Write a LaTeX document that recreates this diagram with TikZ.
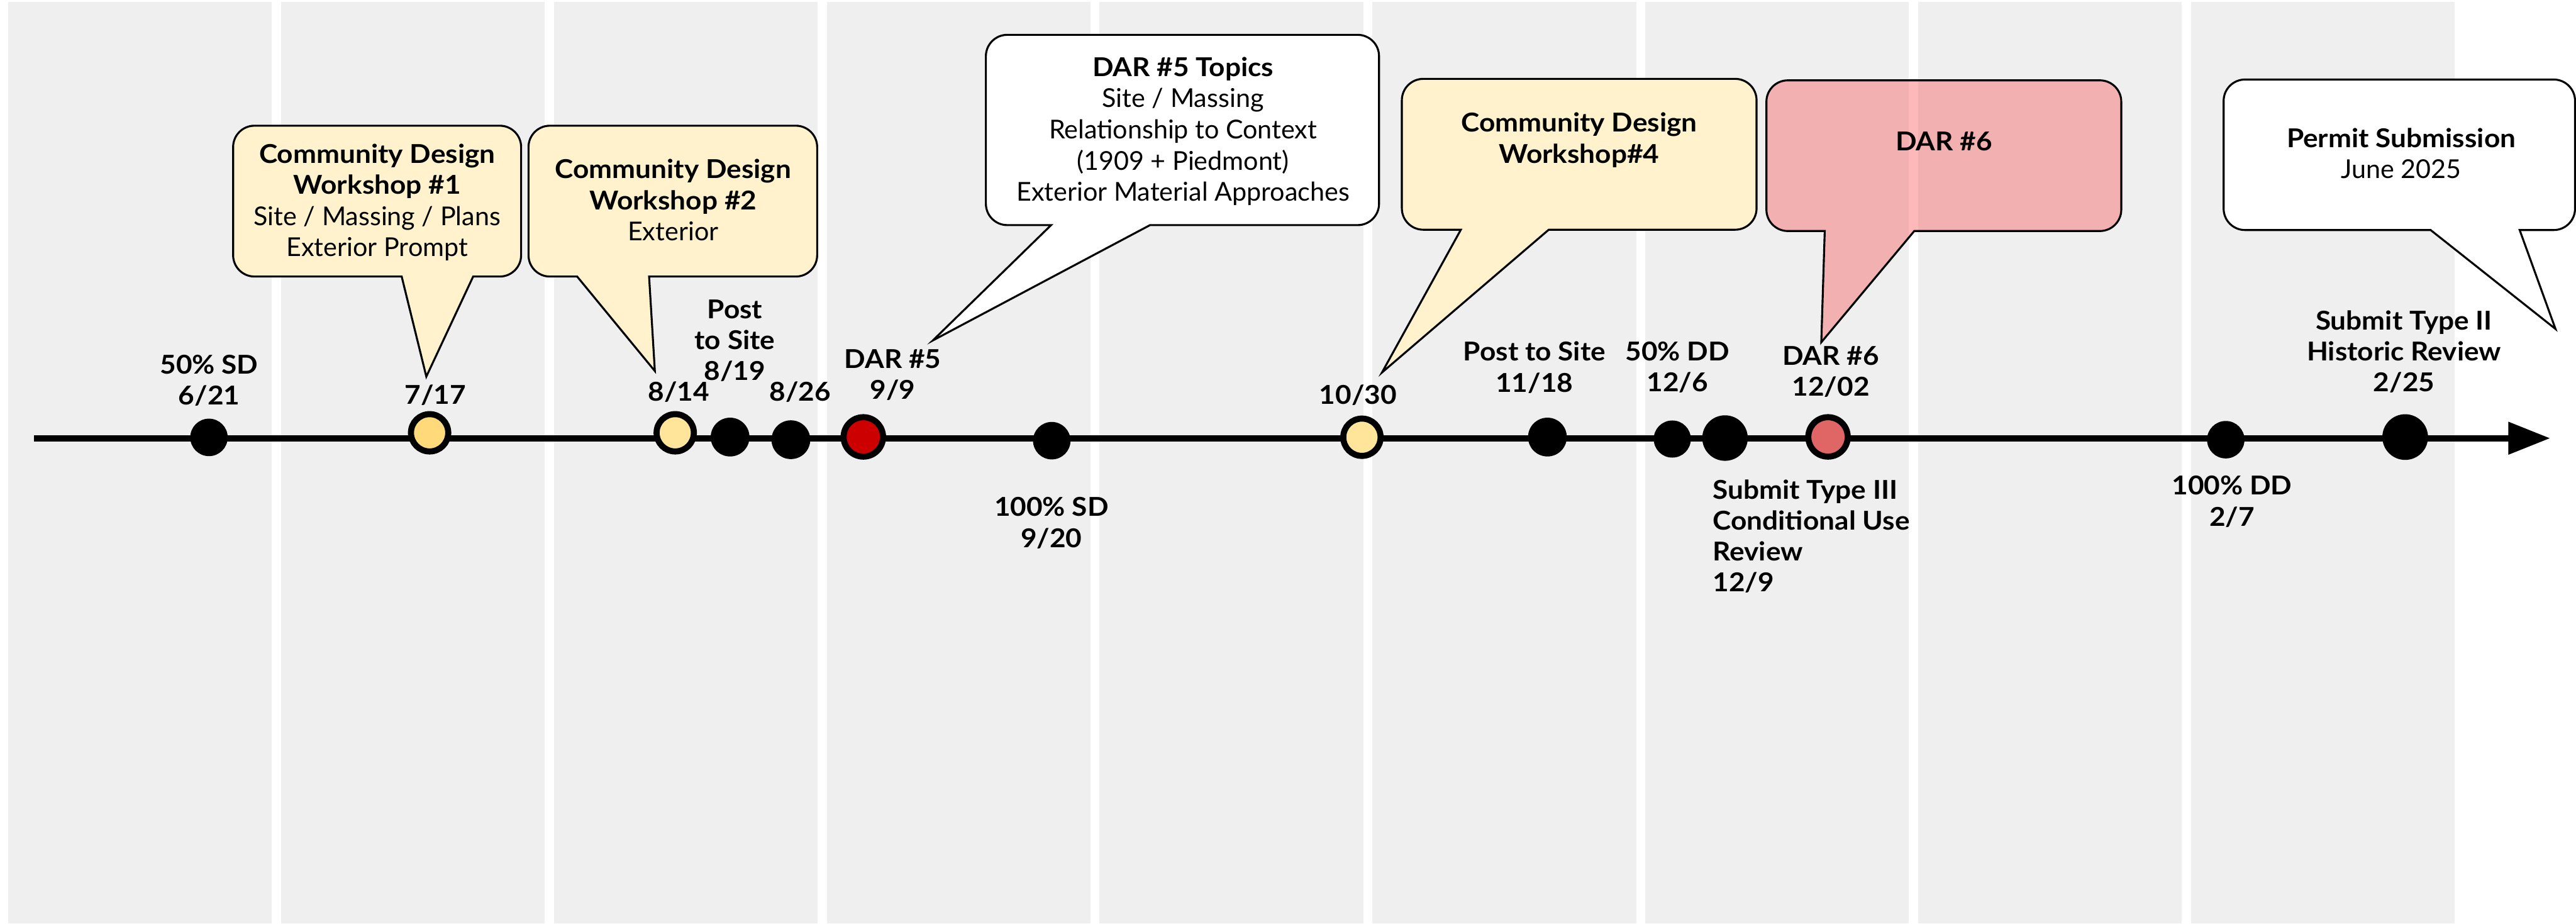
\documentclass[tikz,border=0pt]{standalone}
\usepackage{fontspec}
\setmainfont{Lato}[BoldFeatures={FakeStretch=1.07}]
\usetikzlibrary{arrows.meta}

\definecolor{colbg}{HTML}{EFEFEF}
\definecolor{wsyellow}{HTML}{FFF2CC}
\definecolor{dotgold}{HTML}{FFD97A}
\definecolor{dotlight}{HTML}{FFE599}
\definecolor{darred}{HTML}{CC0000}
\definecolor{darpink}{HTML}{E06666}
\definecolor{bubblepink}{RGB}{250,100,100}

\newcommand\lblfont{\fontsize{15.8}{18.8}\selectfont\bfseries}
\newcommand\txtfont{\fontsize{15.8}{19}\selectfont}

% corner radius of the speech bubbles and its Bezier control offset
\newcommand\rr{13}
\newcommand\rk{5.82}

% speech bubble: #1 style, #2 left, #3 top, #4 right, #5 bottom,
% #6/#7 left/right end of the pointer base, #8 pointer tip coordinate
\newcommand\bubble[8]{%
  \draw[bubbleline,#1] (#7,#5) -- ({#4-\rr},#5)
    .. controls ({#4-\rk},#5) and (#4,{#5-\rk}) .. (#4,{#5-\rr})
    -- (#4,{#3+\rr}) .. controls (#4,{#3+\rk}) and ({#4-\rk},#3) .. ({#4-\rr},#3)
    -- ({#2+\rr},#3) .. controls ({#2+\rk},#3) and (#2,{#3+\rk}) .. (#2,{#3+\rr})
    -- (#2,{#5-\rr}) .. controls (#2,{#5-\rk}) and ({#2+\rk},#5) .. ({#2+\rr},#5)
    -- (#6,#5) -- (#8) -- cycle;}

\begin{document}
\begin{tikzpicture}[x=1pt,y=-1pt,
  bubbleline/.style={draw=black,line width=1.2pt,line join=miter},
  msdot/.style={circle,fill=black,inner sep=0pt,outer sep=0pt,minimum size=#1},
  ringdot/.style={circle,draw=black,line width=3.7pt,fill=#1,inner sep=0pt,outer sep=0pt,minimum size=22.7pt},
  lbl/.style={font=\lblfont,align=center,inner sep=0pt,anchor=north,yshift=7.5pt,
    execute at begin node=\strut},
  btxt/.style={font=\txtfont,align=center,inner sep=0pt,anchor=north,yshift=7.65pt,
    execute at begin node=\strut},
]
\useasboundingbox (0,0) rectangle (1568,562);

% grey column bands
\foreach \k in {0,...,8}
  \fill[colbg] ({4.9+\k*166.1},1.3) rectangle +(160.5,560.7);

% timeline axis
\coordinate (tlstart) at (20.7,266.7);
\coordinate (tlend) at (1552.3,266.7);
\draw[line width=3.9pt,-{Triangle[length=25.5pt,width=19pt]}] (tlstart) -- (tlend);

% milestones
\node[msdot=22.8pt] (d621) at (127.2,266.2) {};
\node[ringdot=dotgold] (d717) at (261.5,263.4) {};
\node[ringdot=dotlight] (d814) at (411.0,263.4) {};
\node[msdot=23.6pt] (d819) at (444.4,266.0) {};
\node[msdot=23.6pt] (d826) at (481.4,267.6) {};
\node[ringdot=darred,minimum size=24pt] (d909) at (525.5,265.9) {};
\node[msdot=22.8pt] (d920) at (640.2,268.2) {};
\node[ringdot=dotlight] (d1030) at (829.0,266.1) {};
\node[msdot=23.6pt] (d1118) at (941.9,266.0) {};
\node[msdot=22.6pt] (d1206) at (1017.9,267.2) {};
\node[msdot=27.7pt] (d1209) at (1050.0,266.6) {};
\node[ringdot=darpink,minimum size=24pt] (d1202) at (1112.7,265.9) {};
\node[msdot=22.8pt] (d0207) at (1354.8,267.6) {};
\node[msdot=27.8pt] (d0225) at (1464.0,266.0) {};

% milestone labels
\node[lbl] (l621) at (127.3,223.3) {50\% SD\\6/21};
\node[lbl] (l717) at (265.0,240.0) {7/17};
\node[lbl] (l814) at (413.2,238.1) {8/14};
\node[lbl] (l819) at (447.3,189.7) {Post\\to Site\\8/19};
\node[lbl] (l826) at (487.0,238.1) {8/26};
\node[lbl] (l909) at (543.4,220.0) {DAR \#5\\9/9};
\node[lbl] (l920) at (640.0,310.0) {100\% SD\\9/20};
\node[lbl] (l1030) at (826.6,240.0) {10/30};
\node[lbl] (l1118) at (934.0,215.3) {Post to Site\\11/18};
\node[lbl] (l1206) at (1021.0,215.3) {50\% DD\\12/6};
\node[lbl] (l1202) at (1114.4,218.2) {DAR \#6\\12/02};
\node[lbl,align=left,anchor=north west] (l1209) at (1042.4,299.3)
  {Submit Type III\\Conditional Use\\Review\\12/9};
\node[lbl] (l0207) at (1358.6,297.0) {100\% DD\\2/7};
\node[lbl] (l0225) at (1463.3,196.4) {Submit Type II\\Historic Review\\2/25};

% pointer tips of the speech bubbles
\coordinate (t1) at (259.5,229.2);
\coordinate (t2) at (398.6,225.8);
\coordinate (t3) at (567.8,207.2);
\coordinate (t4) at (841.2,226.7);
\coordinate (t5) at (1108.6,208.3);
\coordinate (t6) at (1555.5,200.2);

% speech bubbles
\bubble{fill=wsyellow}{141.9}{76.5}{317.2}{168.3}{244.5}{288.0}{t1}
\bubble{fill=wsyellow}{321.7}{76.5}{497.4}{168.3}{351.3}{395.1}{t2}
\bubble{fill=white}{600.1}{21.2}{839.4}{137.0}{639.8}{700.0}{t3}
\bubble{fill=wsyellow}{853.3}{48.0}{1069.2}{139.8}{889.2}{942.7}{t4}
\bubble{fill=bubblepink,fill opacity=0.45}{1075.2}{48.9}{1291.2}{140.6}{1110.7}{1165.2}{t5}
\bubble{fill=white}{1353.5}{48.4}{1567.4}{140.0}{1479.5}{1533.7}{t6}

% bubble texts
\node[btxt] (b1) at (229.6,94.9) {\textbf{Community Design}\\\textbf{Workshop \#1}\\Site / Massing / Plans\\Exterior Prompt};
\node[btxt] (b2) at (409.7,104.3) {\textbf{Community Design}\\\textbf{Workshop \#2}\\Exterior};
\node[btxt] (b3) at (720.1,42.1) {\textbf{DAR \#5 Topics}\\Site / Massing\\Relationship to Context\\(1909 + Piedmont)\\Exterior Material Approaches};
\node[btxt] (b4) at (961.2,75.9) {\textbf{Community Design}\\\textbf{Workshop\#4}};
\node[btxt] (b5) at (1183.2,85.8) {\textbf{DAR \#6}};
\node[btxt] (b6) at (1461.6,85.4) {\textbf{Permit Submission}\\June 2025};
\end{tikzpicture}
\end{document}
